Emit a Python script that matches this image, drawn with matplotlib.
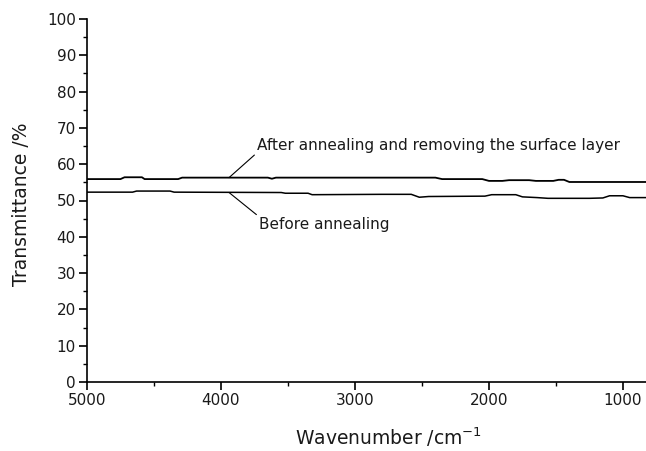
import matplotlib
matplotlib.use("Agg")
import matplotlib.pyplot as plt
from matplotlib.ticker import MultipleLocator

# Data
after_wn = [5000, 4750, 4720, 4590, 4570, 4320, 4290, 3650, 3620, 3590, 2400, 2350,
            2050, 2000, 1900, 1850, 1700, 1650, 1520, 1480, 1440, 1400, 828]
after_t = [55.9, 55.9, 56.4, 56.4, 55.9, 55.9, 56.3, 56.3, 56.0, 56.3, 56.3, 55.9,
           55.9, 55.4, 55.4, 55.6, 55.6, 55.4, 55.4, 55.7, 55.7, 55.1, 55.1]

before_wn = [5000, 4660, 4630, 4380, 4350, 3550, 3520, 3350, 3320, 2800, 2580, 2520,
             2450, 2030, 1980, 1800, 1750, 1640, 1560, 1250, 1150, 1100, 1000, 950, 828]
before_t = [52.3, 52.3, 52.6, 52.6, 52.3, 52.2, 52.0, 52.0, 51.6, 51.7, 51.7, 50.9,
            51.1, 51.2, 51.6, 51.6, 51.0, 50.8, 50.6, 50.6, 50.7, 51.3, 51.3, 50.8, 50.8]

x_ticks = [5000, 4000, 3000, 2000, 1000]
y_ticks = [0, 10, 20, 30, 40, 50, 60, 70, 80, 90, 100]

label_after = "After annealing and removing the surface layer"
label_before = "Before annealing"

text_color = "#1a1a1a"

fig = plt.figure(figsize=(6.46, 4.51), dpi=100)
ax = fig.add_axes([87/646, 1-382/451, (646-87)/646, 363/451])

ax.plot(after_wn, after_t, color="black", lw=1.3)
ax.plot(before_wn, before_t, color="black", lw=1.1)

ax.set_xlim(5000, 828)
ax.set_ylim(0, 100)
ax.set_xticks(x_ticks)
ax.set_yticks(y_ticks)
ax.xaxis.set_minor_locator(MultipleLocator(500))
ax.yaxis.set_minor_locator(MultipleLocator(5))

for s in ["top", "right"]:
    ax.spines[s].set_visible(False)
for s in ["left", "bottom"]:
    ax.spines[s].set_linewidth(1.2)

ax.tick_params(which="major", direction="out", length=6, width=1.2, labelsize=11,
               pad=2, labelcolor=text_color)
ax.tick_params(which="minor", direction="out", length=3, width=1.0)

ax.set_xlabel("Wavenumber /cm$^{-1}$", fontsize=13.5, color=text_color)
ax.xaxis.set_label_coords((389-87)/559, (382-437)/363)
ax.xaxis.label.set_va("center")
ax.set_ylabel("Transmittance /%", fontsize=13.5, color=text_color)
ax.yaxis.set_label_coords((22-87)/559, (382-204)/363)
ax.yaxis.label.set_va("center")

ax.annotate(label_after, xy=(3940, 56.3), xytext=(3730, 63.2),
            fontsize=11, ha="left", va="bottom", color=text_color,
            arrowprops=dict(arrowstyle="-", color="black", lw=0.8, shrinkA=0, shrinkB=0,
                            relpos=(0, 0)))
ax.annotate(label_before, xy=(3940, 52.2), xytext=(3715, 45.5),
            fontsize=11, ha="left", va="top", color=text_color,
            arrowprops=dict(arrowstyle="-", color="black", lw=0.8, shrinkA=0, shrinkB=0,
                            relpos=(0, 1)))

fig.savefig("out.png", dpi=100)
